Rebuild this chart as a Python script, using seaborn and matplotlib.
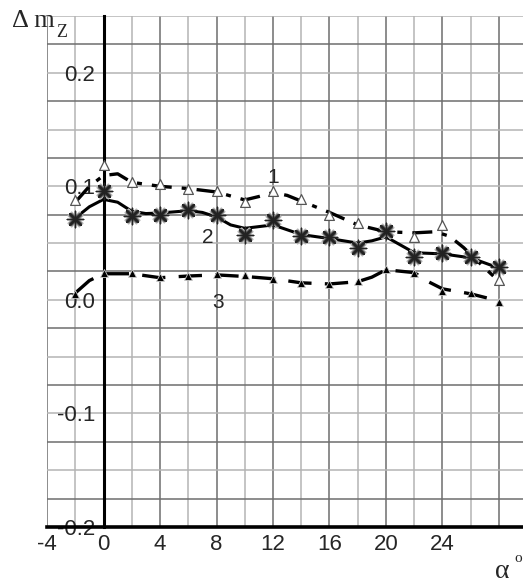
import numpy as np
import pandas as pd
import matplotlib
matplotlib.use("Agg")
import matplotlib.pyplot as plt
import seaborn as sns

# angles of attack of the measured points
alpha = [-2, 0, 2, 4, 6, 8, 10, 12, 14, 16, 18, 20, 22, 24, 26, 28]

# measured points
pts1 = [0.088, 0.119, 0.1035, 0.102, 0.098, 0.0955, 0.086, 0.0955, 0.0885, 0.075, 0.068, 0.062, 0.0555, 0.0655, 0.039, 0.0175]
pts2 = [0.071, 0.0955, 0.0735, 0.075, 0.079, 0.075, 0.0575, 0.070, 0.0565, 0.055, 0.046, 0.061, 0.038, 0.0415, 0.038, 0.029]
pts3 = [0.005, 0.024, 0.024, 0.020, 0.021, 0.023, 0.0215, 0.0185, 0.015, 0.014, 0.017, 0.0275, 0.024, 0.008, 0.006, -0.002]

# faired curves
fit1_x = [-2, -1, 0, 1, 2, 4, 6, 8, 10, 11, 12, 13, 14, 16, 18, 20, 22, 23.5, 24.5, 25.5, 26, 27, 27.6]
fit1_y = [0.086, 0.100, 0.1095, 0.111, 0.1035, 0.100, 0.098, 0.095, 0.088, 0.091, 0.0945, 0.092, 0.087, 0.077, 0.066, 0.060, 0.059, 0.060, 0.056, 0.046, 0.040, 0.028, 0.021]

fit2_x = [-2, -1, 0, 1, 2, 3, 4, 6, 7, 8, 9, 10, 11, 12, 14, 16, 18, 19, 20, 22, 24, 26, 28]
fit2_y = [0.072, 0.082, 0.0885, 0.086, 0.078, 0.076, 0.0765, 0.0785, 0.077, 0.073, 0.066, 0.063, 0.0645, 0.066, 0.0575, 0.054, 0.050, 0.052, 0.0555, 0.0415, 0.0405, 0.037, 0.028]

fit3_x = [-2, -1, 0, 2, 4, 6, 8, 10, 12, 14, 16, 18, 19, 20, 22, 23, 24, 26, 28]
fit3_y = [0.006, 0.017, 0.023, 0.023, 0.0195, 0.021, 0.022, 0.0206, 0.0186, 0.015, 0.014, 0.016, 0.020, 0.0265, 0.024, 0.016, 0.0097, 0.0053, -0.001]

df = pd.DataFrame({"alpha": alpha, "p1": pts1, "p2": pts2, "p3": pts3})

sns.set_style("white")
plt.rcParams["font.family"] = ["Liberation Sans", "DejaVu Sans"]

fig = plt.figure(figsize=(5.23, 5.83), dpi=100)
ax = fig.add_axes([0.0899, 0.0961, 0.9101, 0.8765])
ax.set_xlim(-4, 29.7)
ax.set_ylim(-0.2, 0.25)

# grid
for i, gx in enumerate(np.arange(-4, 30, 2)):
    ax.axvline(gx, color="#6e6e6e" if i % 2 == 0 else "#b4b4b4", lw=1.1, zorder=0)
for i, gy in enumerate(np.arange(-0.2, 0.26, 0.025)):
    ax.axhline(gy, color="#6e6e6e" if i % 2 == 1 else "#b4b4b4", lw=1.1, zorder=0)

# curves
sns.lineplot(x=fit1_x, y=fit1_y, ax=ax, color="black", lw=2.4,
             zorder=3).lines[-1].set_dashes([6, 3, 1.5, 3])
sns.lineplot(x=fit2_x, y=fit2_y, ax=ax, color="black", lw=2.2, zorder=3)
sns.lineplot(x=fit3_x, y=fit3_y, ax=ax, color="black", lw=2.4,
             zorder=3).lines[-1].set_dashes([7, 4])

sns.scatterplot(data=df, x="alpha", y="p1", ax=ax, marker="^", s=50,
                facecolor="white", edgecolor="#555555", linewidth=0.9, zorder=4)
sns.scatterplot(data=df, x="alpha", y="p2", ax=ax, marker="X", s=120,
                color="#444444", edgecolor="#bbbbbb", linewidth=0.8, zorder=4)
sns.scatterplot(data=df, x="alpha", y="p2", ax=ax, marker=(8, 2, 0), s=140,
                color="#222222", linewidth=1.0, zorder=5)
sns.scatterplot(data=df, x="alpha", y="p3", ax=ax, marker="^", s=32,
                color="black", edgecolor="#cccccc", linewidth=0.6, zorder=4)

# curve numbers
ax.text(12.0, 0.108, "1", fontsize=15, ha="center", va="center", zorder=6)
ax.text(7.4, 0.055, "2", fontsize=15, ha="center", va="center", zorder=6)
ax.text(8.1, -0.002, "3", fontsize=15, ha="center", va="center", zorder=6)

# axes
for s in ["top", "right"]:
    ax.spines[s].set_visible(False)
ax.spines["left"].set_position(("data", 0))
ax.spines["left"].set_linewidth(2.2)
ax.spines["left"].set_color("black")
ax.spines["bottom"].set_linewidth(2.6)
ax.spines["bottom"].set_color("black")
ax.spines["left"].set_zorder(2)
ax.spines["bottom"].set_zorder(7)

ax.set_xticks(np.arange(-4, 29, 4))
ax.set_xticklabels(["-4", "0", "4", "8", "12", "16", "20", "24", ""])
ax.set_yticks([-0.2, -0.1, 0.0, 0.1, 0.2])
ax.set_yticklabels(["-0.2", "-0.1", "0.0", "0.1", "0.2"])
ax.tick_params(axis="x", direction="out", length=6, width=2.2, labelsize=16, pad=-1)
ax.tick_params(axis="y", direction="out", length=5, width=1.6, labelsize=16, pad=1)
ax.set_xlabel("")
ax.set_ylabel("")

serif = ["Liberation Serif", "DejaVu Serif"]
fig.text(0.022, 0.954, "\u0394 m", fontsize=19, family=serif, ha="left", va="baseline")
fig.text(0.108, 0.937, "Z", fontsize=13, family=serif, ha="left", va="baseline")
fig.text(0.947, 0.008, "\u03b1", fontsize=20, family=serif, ha="left", va="baseline")
fig.text(0.984, 0.036, "o", fontsize=11, family=serif, ha="left", va="baseline")

fig.savefig("out.png", dpi=100)
